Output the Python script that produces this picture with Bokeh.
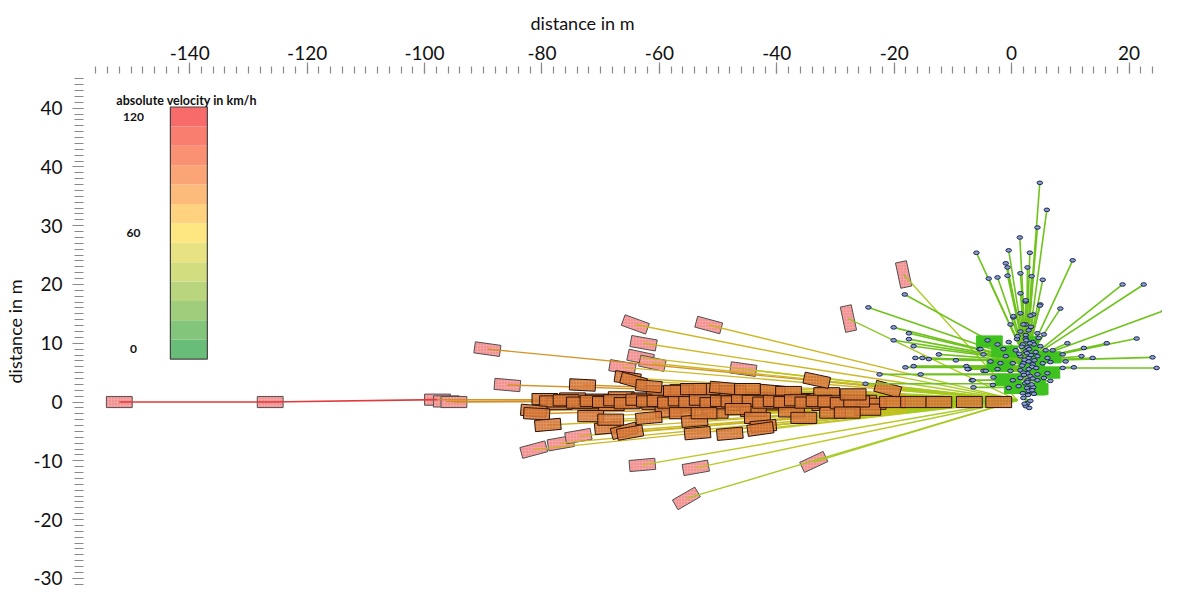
from bokeh.plotting import figure
from bokeh.models import Range1d, FixedTicker
from bokeh.core.properties import value
from bokeh.embed import file_html
from bokeh.resources import INLINE

# ---------------- data (metres, km/h) ----------------
# fastest vehicle, three snapshots along the centre line
red_car_x = [-152.0, -126.3]
red_car_y = [0.0, 0.0]
red_track_x = [-152.0, -126.3, -97.8]
red_track_y = [0.0, 0.0, 0.4]

# spread start positions of vehicles
spread_x = [-97.8, -96.3, -95.0, -89.3, -85.9, -81.4, -80.9, -79.0, -81.4, -76.8,
            -73.8, -73.1, -71.7, -68.8, -68.3, -66.0, -65.0, -66.3, -65.4, -64.4,
            -64.1, -63.2, -62.7, -61.2, -61.8, -61.8, -62.9, -57.1, -56.1, -54.0,
            -53.5, -52.4, -51.6, -52.0, -49.2, -54.2, -53.8, -55.4, -48.0, -46.6,
            -43.3, -42.3, -45.0, -45.7, -42.8, -33.2, -33.7, -35.4, -28.0, -27.0,
            -21.1, -27.8, -18.4, -20.3, -16.7, -12.4, -7.2, -2.2]
spread_y = [0.4, 0.1, 0.0, 9.0, 2.9, -1.5, -2.0, -3.9, -8.1, -7.0,
            -5.8, 2.9, -2.4, -4.4, -3.0, -4.9, -5.2, 5.9, 4.1, 3.6,
            13.2, 7.6, 10.0, 6.6, 2.7, -2.7, -10.7, 1.9, -1.9, -3.2,
            -5.3, -1.9, 13.1, 2.2, 2.4, 2.2, -11.2, -16.4, -5.4, -1.2,
            -2.7, -4.1, 2.2, 5.6, -4.6, 3.7, -10.2, -2.7, -1.8, 1.3,
            2.2, 14.2, 21.7, 0.0, 0.0, 0.0, 0.0, 0.0]
spread_heading = [0, 0, 0, -8, -5, -5, -3, 5, 15, 10,
                  10, -3, 0, 5, 0, 15, 10, -10, -8, -15,
                  -20, -12, -10, -12, -5, 5, 5, 0, 0, 5,
                  5, 0, -15, 0, -5, 0, 10, 30, 5, 0,
                  0, 5, 0, -8, 8, -12, 25, 0, 0, 0,
                  -15, -78, -78, 0, 0, 0, 0, 0]
spread_speed = [95, 95, 95, 95, 92, 90, 88, 75, 72, 72,
                74, 88, 80, 76, 78, 74, 72, 78, 78, 76,
                70, 70, 70, 70, 76, 74, 62, 74, 72, 70,
                68, 70, 68, 70, 70, 72, 60, 45, 66, 66,
                64, 62, 66, 62, 62, 55, 45, 58, 55, 55,
                50, 40, 40, 48, 45, 42, 40, 38]

# dense band of vehicles along the centre line
band_x = [-79.5, -77.0, -74.8, -72.4, -70.3, -68.2, -66.5, -64.5, -62.6, -60.8,
          -59.0, -57.2, -55.5, -53.6, -51.8, -50.0, -48.2, -46.4, -44.6, -42.8,
          -41.0, -39.2, -37.4, -35.6, -33.8, -31.8, -29.8, -27.6, -25.2, -23.6,
          -60.0, -56.0, -47.5, -40.8, -38.0, -31.5, -58.5, -50.5, -44.0, -37.5,
          -30.5, -24.5,
          -78.2, -75.9, -73.6, -71.3, -69.2, -67.3, -65.5, -63.5, -61.7, -59.9,
          -58.1, -56.3, -54.5, -52.7, -50.9, -49.1, -47.3, -45.5, -43.7, -41.9,
          -40.1, -38.3, -36.5, -34.7, -32.8, -30.8, -28.7, -26.4]
band_y = [0.5, -0.3, 0.6, -0.2, 0.4, -0.5, 0.8, 0.0, 0.6, -0.3,
          0.5, -0.6, 0.3, -0.2, 0.7, 0.0, -0.5, 0.4, -0.1, 0.6,
          -0.4, 0.2, -0.2, 0.5, 0.0, -0.5, 0.3, 0.0, 0.2, -0.3,
          1.8, 2.0, 1.8, 1.9, 1.7, 1.5, -1.6, -1.8, -1.5, -1.6,
          -1.8, -1.3,
          0.1, 0.3, -0.1, 0.2, 0.0, 0.3, -0.2, 0.4, 0.1, 0.2,
          -0.1, 0.3, 0.0, 0.4, -0.2, 0.2, 0.1, 0.3, 0.2, -0.1,
          0.2, 0.0, 0.3, -0.1, 0.2, 0.1, -0.2, 0.1]
band_heading = [0, 0, 0, 0, 0, 0, 0, 0, 0, 0,
                0, 0, 0, 0, 0, 0, 0, 0, 0, 0,
                0, 0, 0, 0, 0, 0, 0, 0, 0, 0,
                -3, 0, 0, -5, 0, 0, 3, 0, 0, 0,
                0, 0,
                0, 0, 0, 0, 0, 0, 0, 0, 0, 0,
                0, 0, 0, 0, 0, 0, 0, 0, 0, 0,
                0, 0, 0, 0, 0, 0, 0, 0]
band_speed = [88, 88, 86, 86, 85, 85, 84, 84, 82, 82,
              80, 80, 78, 78, 76, 76, 74, 74, 72, 70,
              70, 68, 66, 64, 62, 60, 58, 56, 54, 52,
              80, 78, 72, 68, 66, 60, 78, 74, 70, 64,
              58, 52,
              88, 86, 86, 85, 85, 84, 84, 82, 82, 80,
              80, 78, 78, 76, 76, 74, 74, 72, 70, 70,
              68, 66, 64, 62, 60, 58, 56, 54]

# vehicles at rest in the conflict zone
green_x = [-3.8, -1.2, 3.6, 6.2, -2.0, 3.4, 6.0, -0.6, 4.8, 1.0, 4.0]
green_y = [10.3, 8.6, 9.0, 7.6, 6.2, 6.0, 5.0, 3.8, 3.4, 2.4, 2.2]
green_heading = [0, 0, 90, 0, 0, 0, 0, 0, 90, 0, 0]

# end positions (dots)
dot_x = [4.8, 6.0, 4.4, 1.4, -6.0, -0.5, 3.1, 10.4, -1.0, -0.7, 2.7, -3.9, -2.4, -0.7, 1.5,
         3.4, 5.3, 18.9, 22.5, -18.2, 1.5, 2.4, 4.9, 8.3, 26.1, -24.4, 1.5, 3.7, 0.3, -0.2,
         2.4, -20.1, -17.5, -17.5, -20.1, -16.7, -4.1, 9.5, 16.2, 21.3, 12.3, 24.0, 11.9, 13.8,
         10.6, 24.7, 8.7, -15.2, -16.4, -14.1, -12.4, -9.5, -18.1, -16.7, -22.5, -15.5, -7.7,
         -7.3, -5.5, -4.8, -6.8, -6.5, -24.9,
         2.4, 4.8, 0.3, 3.2, 2.0, 1.5, 2.9, 4.4, 5.5, 0.9, 2.4, 3.6, -2.4, -0.5, 1.9, 2.7, 4.9,
         -1.4, 0.7, 2.4, 4.1, 5.8, 7.0, -5.3, -4.8, -1.0, 1.5, 2.9, 4.4, 6.1, 8.7, -3.6, -1.9,
         0.2, 2.0, 3.6, 5.3, 6.6, 9.2, -7.5, -4.4, -2.4, -0.2, 1.5, 2.7, 4.4, 6.1, -3.1, 0.2,
         1.5, 2.7, 4.4, 5.5, 6.6, -6.6, -3.2, -0.5, 1.2, 2.6, 3.7, 1.9, 2.9, 2.0, 2.7, 2.4,
         3.0, 3.3, 2.2, 3.5, 2.0, 3.2, 2.3, 3.4, 2.8, 3.2, 2.2, 3.0, 2.5, 3.8, 1.0, 3.3,
         2.6, 3.9, 1.8, 2.9, 4.2, 2.1, 3.6, 2.7, 1.3, 3.1, 4.6, 2.4, 3.5, 1.7, 2.9, 3.8]
dot_y = [37.3, 32.7, 29.7, 28.0, 25.4, 25.8, 25.4, 24.1, 23.6, 22.9, 22.9, 21.0, 21.2, 21.5, 21.9,
         21.4, 20.8, 20.0, 20.0, 18.3, 18.5, 17.1, 16.6, 15.9, 15.6, 16.1, 15.1, 14.9, 14.4, 13.2,
         13.2, 12.7, 11.7, 10.7, 10.5, 9.5, 10.5, 10.0, 10.0, 10.8, 9.2, 7.6, 7.8, 7.5,
         5.9, 5.8, 5.8, 7.5, 7.5, 7.3, 8.1, 7.1, 5.9, 6.1, 4.7, 4.7, 6.1,
         5.6, 9.0, 5.3, 3.7, 2.5, 3.1,
         17.3, 16.4, 14.6, 14.7, 13.2, 12.0, 12.2, 11.7, 11.5, 10.7, 10.8, 10.2, 9.8, 10.2, 9.8, 9.3, 9.5,
         9.0, 8.8, 8.6, 8.5, 8.8, 8.8, 9.0, 8.1, 7.8, 7.8, 7.5, 7.8, 7.5, 8.1, 6.9, 6.6,
         6.6, 6.6, 6.4, 6.6, 6.8, 6.9, 5.6, 5.3, 5.6, 5.3, 5.4, 4.9, 4.7, 4.9, 4.2, 3.7,
         4.1, 3.7, 3.7, 4.1, 3.6, 3.7, 2.9, 2.4, 2.7, 2.4, 2.5, 1.5, 1.9, 0.7, -0.2, -0.7,
         9.0, 8.0, 7.2, 6.0, 5.0, 4.4, 3.2, 3.0, 1.2, 0.2, -0.3, -1.0, 10.5, 9.8, 11.2, 12.8,
         8.3, 7.1, 6.2, 5.6, 5.8, 4.6, 4.0, 3.4, 8.2, 10.0, 10.9, 11.4, 2.0, 9.4, 6.9, 1.4]

# colour legend
legend_levels = [0, 10, 20, 30, 40, 50, 60, 70, 80, 90, 100, 110, 120]
legend_colors = ["#68bd78", "#83c57b", "#9fcd7c", "#b9d57e", "#d2dd80", "#e7e282", "#fee781",
                 "#fed27f", "#fdbb7b", "#fba577", "#fa9172", "#f97e6f", "#f86b6b"]
legend_ticks = [120, 60, 0]

x_major = [-140, -120, -100, -80, -60, -40, -20, 0, 20]
y_major = [-30, -20, -10, 0, 10, 20, 30, 40, 50]
y_label_text = ["-30", "-20", "-10", "0", "10", "20", "30", "40", "40"]

impact_x, impact_y = 1.0, 0.3
fade_x = -18.0


def speed_color(v):
    if v >= 110:
        return "#e03a3a"
    if v >= 84:
        return "#d28e1e"
    if v >= 68:
        return "#cbb31b"
    if v >= 55:
        return "#bcc51c"
    if v >= 45:
        return "#a3c81e"
    return "#88c61f"


FONT = "Lato"
p = figure(width=1162, height=589, x_range=Range1d(-158.1, 25.7), y_range=Range1d(-31.9, 55.9),
           x_axis_location="above", output_backend="svg", toolbar_location=None,
           min_border_left=83, min_border_top=71, min_border_right=0, min_border_bottom=0)
p.outline_line_color = None
p.grid.visible = False

# axes
xa = p.xaxis[0]
xa.ticker = FixedTicker(ticks=x_major, minor_ticks=list(range(-156, 26, 2)))
xa.major_label_overrides = {v: str(v) for v in x_major}
ya = p.yaxis[0]
ya.ticker = FixedTicker(ticks=y_major, minor_ticks=list(range(-31, 56)))
ya.major_label_overrides = dict(zip(y_major, y_label_text))
for ax in (xa, ya):
    ax.axis_line_color = None
    ax.major_tick_in = 0
    ax.minor_tick_in = 0
    ax.major_tick_out = 11
    ax.major_tick_line_color = "#8a8a8a"
    ax.minor_tick_line_color = "#8a8a8a"
    ax.major_tick_line_width = 1.2
    ax.minor_tick_line_width = 1.2
    ax.major_label_text_font = FONT
    ax.major_label_text_font_size = "19px"
    ax.major_label_text_color = "#111111"
xa.minor_tick_out = 7
xa.major_label_standoff = 3
ya.minor_tick_out = 9
ya.major_label_standoff = 10
ya.axis_label = "distance in m"
ya.axis_label_text_font = FONT
ya.axis_label_text_font_size = "18px"
ya.axis_label_text_font_style = "normal"
ya.axis_label_text_color = "#111111"
ya.axis_label_standoff = 4

p.title.text = "distance in m"
p.title.align = "left"
p.title.offset = 447
p.title.text_font = FONT
p.title.text_font_size = "18px"
p.title.text_font_style = "normal"
p.title.text_color = "#111111"
p.title.standoff = 18

# vehicles at start: pink hatched; those inside the trajectory bundle look orange
pink = dict(fill_color="#f6a3a3", line_color="#505050", hatch_color="#e35757")
bundle = dict(fill_color="#d9803e", line_color="#2b1208", hatch_color="#b4461a")
car_style = dict(width=4.4, height=1.9, angle_units="deg", line_width=1, hatch_pattern="dot",
                 hatch_scale=3.0, hatch_weight=1.0, hatch_alpha=0.6)


def in_bundle(x, y):
    return abs(y) < 5.5 and x > -82


car_x = band_x + spread_x
car_y = band_y + spread_y
car_heading = band_heading + spread_heading
car_speed = band_speed + spread_speed
pink_idx = [i for i in range(len(car_x)) if not in_bundle(car_x[i], car_y[i])]
bundle_idx = [i for i in range(len(car_x)) if in_bundle(car_x[i], car_y[i])]
p.rect(x=[car_x[i] for i in pink_idx], y=[car_y[i] for i in pink_idx],
       angle=[car_heading[i] for i in pink_idx], **car_style, **pink)
p.rect(x=red_car_x, y=red_car_y, angle=0, **car_style, **pink)

# approach trajectories (colour fades to green near the conflict zone)
p.line(red_track_x, red_track_y, line_color=speed_color(120), line_width=1.6)
x0, y0, x1, y1, col = [], [], [], [], []
for cx, cy, v in zip(car_x, car_y, car_speed):
    if cx < fade_x:
        t = (fade_x - cx) / (impact_x - cx)
        my = cy + t * (impact_y - cy)
        x0 += [cx, fade_x]
        y0 += [cy, my]
        x1 += [fade_x, impact_x]
        y1 += [my, impact_y]
        col += [speed_color(v), "#a6c91e"]
    else:
        x0.append(cx)
        y0.append(cy)
        x1.append(impact_x)
        y1.append(impact_y)
        col.append(speed_color(v))
p.segment(x0=x0, y0=y0, x1=x1, y1=y1, line_color=col, line_width=1.4, line_alpha=0.95)

# vehicles inside the bundle, drawn over the lines
p.rect(x=[car_x[i] for i in bundle_idx], y=[car_y[i] for i in bundle_idx],
       angle=[car_heading[i] for i in bundle_idx], fill_alpha=0.85, **car_style, **bundle)

# departure trajectories
start_y = [min(max(y, 0.5), 7.0) for y in dot_y]
p.segment(x0=[2.5] * len(dot_x), y0=start_y, x1=dot_x, y1=dot_y,
          line_color="#6fc31c", line_width=1.6)

# vehicles at rest
p.rect(x=green_x, y=green_y, width=4.4, height=1.9, angle=green_heading, angle_units="deg",
       fill_color="#3fc21f", line_color="#3fc21f")

p.ellipse(x=dot_x, y=dot_y, width=0.95, height=0.62, fill_color="#8a9dcc",
          line_color="#18244f", line_width=1)

# colour legend
bar_left, bar_right, bar_bottom, bar_top = -143.3, -137.0, 7.3, 50.2
step = (bar_top - bar_bottom) / len(legend_levels)
bottoms = [bar_bottom + i * step for i in range(len(legend_levels))]
p.quad(left=bar_left, right=bar_right, bottom=bottoms, top=[b + step for b in bottoms],
       fill_color=legend_colors, line_color=None)
p.quad(left=[bar_left], right=[bar_right], bottom=[bar_bottom], top=[bar_top],
       fill_color=None, line_color="#444444", line_width=1.2)
tick_y = [bar_bottom + (v / 10 + 0.5) * step for v in legend_ticks]
p.text(x=[-149.6] * len(legend_ticks), y=tick_y, text=[str(v) for v in legend_ticks],
       text_font=value(FONT), text_font_style="bold", text_font_size=value("12px"),
       text_align="center", text_baseline="middle", text_color="#111111")
p.text(x=[-152.5], y=[51.3], text=["absolute velocity in km/h"], text_font=value(FONT),
       text_font_style="bold", text_font_size=value("12.5px"), text_align="left",
       text_baseline="middle", text_color="#111111")

open("out.html", "w").write(file_html(p, INLINE))
